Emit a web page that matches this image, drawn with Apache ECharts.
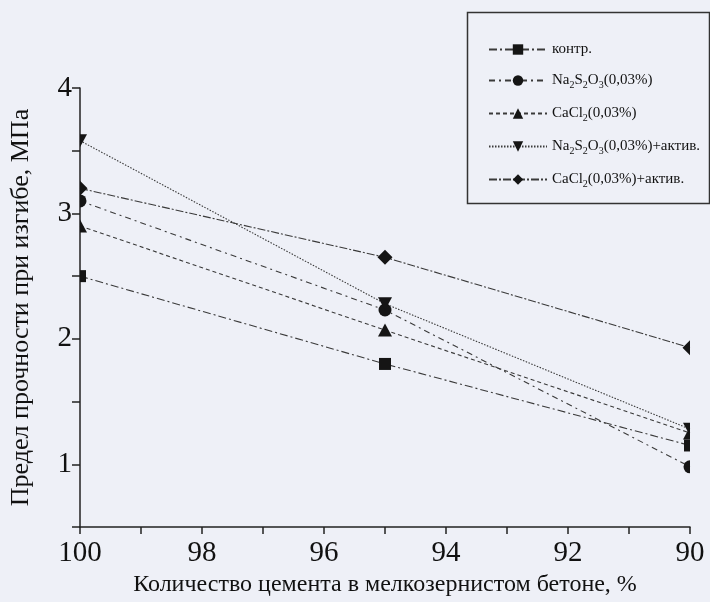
<!DOCTYPE html>
<html>
<head>
<meta charset="utf-8">
<script src="https://cdn.jsdelivr.net/npm/echarts@6/dist/echarts.min.js"></script>
<style>
html,body{margin:0;padding:0;background:#eef0f7;}
#c{width:710px;height:602px;}
</style>
</head>
<body>
<div id="c"></div>
<script>
// ---- data ----
var xValues = [100, 95, 90];
var seriesNames = ['контр.', 'Na2S2O3(0,03%)', 'CaCl2(0,03%)', 'Na2S2O3(0,03%)+актив.', 'CaCl2(0,03%)+актив.'];
var kontr = [2.5, 1.8, 1.15];
var na2s2o3 = [3.1, 2.23, 0.98];
var cacl2 = [2.9, 2.07, 1.25];
var na2s2o3Activ = [3.58, 2.28, 1.28];
var cacl2Activ = [3.2, 2.65, 1.93];
var yTickLabels = ['1', '2', '3', '4'];
var xTickLabels = ['90', '92', '94', '96', '98', '100'];

// ---- styles ----
var FONT = 'Liberation Serif';
var LINE_COLOR = '#3a3a3a';
var MARK_COLOR = '#151515';
var shapes = [
  { full: 'rect', size: [12, 12],
    right: 'rect', left: 'rect', dash: [8, 3, 2, 3] },
  { full: 'circle', size: [13, 13],
    right: 'path://M0,0 A10,10 0 0 1 0,20 Z', left: 'path://M10,0 A10,10 0 0 0 10,20 Z', dash: [6, 4, 2, 4] },
  { full: 'triangle', size: [14, 13],
    right: 'path://M0,0 L10,20 L0,20 Z', left: 'path://M10,0 L10,20 L0,20 Z', dash: [4, 3] },
  { full: 'path://M0,0 L20,0 L10,20 Z', size: [14, 13],
    right: 'path://M0,0 L10,0 L0,20 Z', left: 'path://M0,0 L10,0 L10,20 Z', dash: [1.5, 1.5] },
  { full: 'diamond', size: [15, 15],
    right: 'path://M0,0 L10,10 L0,20 Z', left: 'path://M10,0 L0,10 L10,20 Z', dash: [8, 2, 2, 2] }
];
var allValues = [kontr, na2s2o3, cacl2, na2s2o3Activ, cacl2Activ];

function buildData(vals, sh) {
  return vals.map(function (v, i) {
    var item = { value: [xValues[i], v] };
    if (xValues[i] === 100) {
      item.symbol = sh.right;
      item.symbolSize = [sh.size[0] / 2, sh.size[1]];
      item.symbolOffset = [sh.size[0] / 4, 0];
    } else if (xValues[i] === 90) {
      item.symbol = sh.left;
      item.symbolSize = [sh.size[0] / 2, sh.size[1]];
      item.symbolOffset = [-sh.size[0] / 4, 0];
    }
    return item;
  });
}

var series = seriesNames.map(function (name, k) {
  var sh = shapes[k];
  return {
    name: name,
    type: 'line',
    symbol: sh.full,
    symbolSize: sh.size,
    data: buildData(allValues[k], sh),
    lineStyle: { color: LINE_COLOR, width: 1.1, type: sh.dash },
    itemStyle: { color: MARK_COLOR, borderWidth: 0 },
    emphasis: { disabled: true },
    animation: false,
    z: 3
  };
});

var richNames = {
  'контр.': 'контр.',
  'Na2S2O3(0,03%)': 'Na{s|2}S{s|2}O{s|3}(0,03%)',
  'CaCl2(0,03%)': 'CaCl{s|2}(0,03%)',
  'Na2S2O3(0,03%)+актив.': 'Na{s|2}S{s|2}O{s|3}(0,03%)+актив.',
  'CaCl2(0,03%)+актив.': 'CaCl{s|2}(0,03%)+актив.'
};

var chart = echarts.init(document.getElementById('c'), null, { renderer: 'canvas' });
chart.setOption({
  backgroundColor: '#eef0f7',
  animation: false,
  grid: { left: 80, right: 20, top: 88, bottom: 75, containLabel: false },
  graphic: [{
    type: 'rect', left: 465, top: 10,
    shape: { width: 242, height: 191 },
    style: { fill: 'none', stroke: '#333', lineWidth: 1.5 },
    z: 1
  }],
  legend: {
    orient: 'vertical',
    left: 483, top: 37,
    itemWidth: 58, itemHeight: 13,
    itemGap: 16,
    data: seriesNames,
    formatter: function (n) { return richNames[n]; },
    textStyle: {
      fontFamily: FONT, fontSize: 15, color: '#111',
      rich: {
        s: { fontFamily: FONT, fontSize: 10, color: '#111', padding: [9, 0, 0, 0] }
      }
    }
  },
  xAxis: {
    type: 'value', inverse: true, min: 90, max: 100, interval: 1,
    name: 'Количество цемента в мелкозернистом бетоне, %',
    nameLocation: 'middle', nameGap: 46,
    nameTextStyle: { fontFamily: FONT, fontSize: 24, color: '#111' },
    axisLine: { show: true, lineStyle: { color: '#222', width: 1.5 } },
    axisTick: { show: true, length: 7, lineStyle: { color: '#222', width: 1.5 } },
    axisLabel: {
      margin: 12, fontFamily: FONT, fontSize: 29, color: '#111',
      formatter: function (v) {
        var s = String(v);
        return xTickLabels.indexOf(s) >= 0 ? s : '';
      }
    },
    splitLine: { show: false }
  },
  yAxis: {
    type: 'value', min: 0.5, max: 4, interval: 0.5,
    name: 'Предел прочности при изгибе, МПа',
    nameLocation: 'middle', nameGap: 46, nameRotate: 90,
    nameTextStyle: { fontFamily: FONT, fontSize: 26, color: '#111' },
    axisLine: { show: true, lineStyle: { color: '#222', width: 1.5 } },
    axisTick: { show: true, length: 8, lineStyle: { color: '#222', width: 1.5 } },
    axisLabel: {
      margin: 8, fontFamily: FONT, fontSize: 29, color: '#111',
      formatter: function (v) {
        var s = String(v);
        return yTickLabels.indexOf(s) >= 0 ? s : '';
      }
    },
    splitLine: { show: false }
  },
  series: series
});
</script>
</body>
</html>
